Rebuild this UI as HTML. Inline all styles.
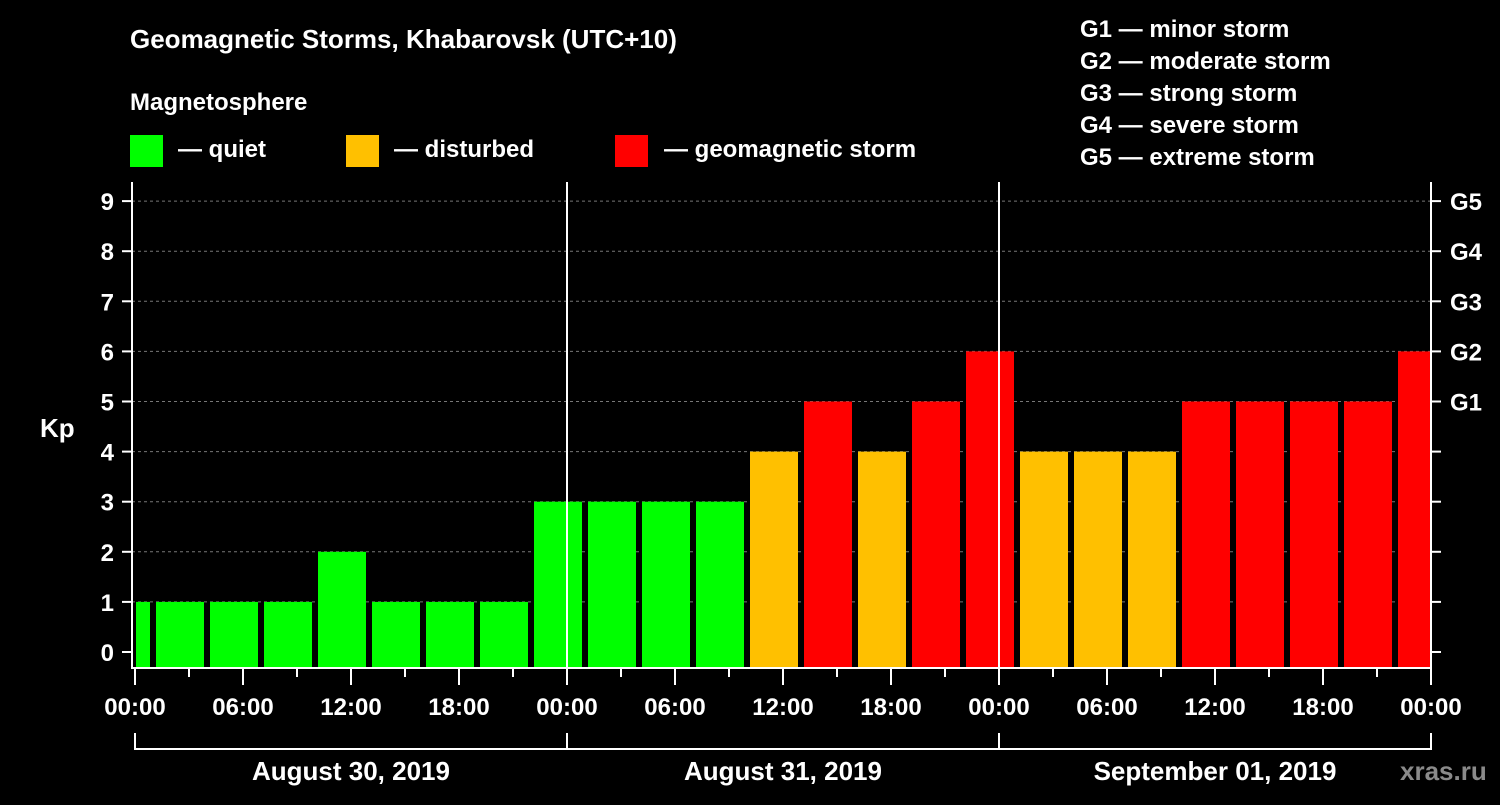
<!DOCTYPE html>
<html><head><meta charset="utf-8"><style>
body{margin:0;background:#000;width:1500px;height:800px;overflow:hidden}
svg text{font-family:"Liberation Sans",sans-serif;font-weight:bold;fill:#fff}
</style></head><body>
<svg id="c" width="1500" height="800">
<text x="130" y="48" font-size="26">Geomagnetic Storms, Khabarovsk (UTC+10)</text>
<text x="130" y="110" font-size="24">Magnetosphere</text>
<g><rect x="130" y="135" width="33" height="32" fill="#00ff00"/><text x="178" y="157" font-size="24">— quiet</text></g>
<g><rect x="346" y="135" width="33" height="32" fill="#ffc000"/><text x="394" y="157" font-size="24">— disturbed</text></g>
<g><rect x="615" y="135" width="33" height="32" fill="#ff0000"/><text x="664" y="157" font-size="24">— geomagnetic storm</text></g>
<g font-size="24">
<text x="1080" y="37">G1 — minor storm</text><text x="1080" y="69">G2 — moderate storm</text><text x="1080" y="101">G3 — strong storm</text><text x="1080" y="133">G4 — severe storm</text><text x="1080" y="165">G5 — extreme storm</text></g>
<text x="40" y="437" font-size="26">Kp</text>
<g id="grid"></g><g id="bars"></g><g id="axes"></g>
<text x="1400" y="780" font-size="26" fill="#888" style="fill:#8a8a8a">xras.ru</text>
</svg>
<script>
const kpValues=[1,1,1,1,2,1,1,1,3,3,3,3,4,5,4,5,6,4,4,4,5,5,5,5,6];
const barStartHours=[-2,1,4,7,10,13,16,19,22,25,28,31,34,37,40,43,46,49,52,55,58,61,64,67,70];
const yTicks=[0,1,2,3,4,5,6,7,8,9];
const gLabels={5:"G1",6:"G2",7:"G3",8:"G4",9:"G5"};
const xTickLabels=["00:00","06:00","12:00","18:00","00:00","06:00","12:00","18:00","00:00","06:00","12:00","18:00","00:00"];
const dateLabels=["August 30, 2019","August 31, 2019","September 01, 2019"];
const NS="http://www.w3.org/2000/svg";
const X0=135,PX_H=18,HMAX=72,Y0=652,PX_K=50.1,TOP=182,BOT=668,LEFT=132,RIGHT=1431;
const x=h=>X0+h*PX_H, y=k=>Y0-k*PX_K;
function mk(tag,attrs,parent){const e=document.createElementNS(NS,tag);for(const k in attrs)e.setAttribute(k,attrs[k]);document.getElementById(parent).appendChild(e);return e;}
yTicks.forEach(k=>{if(k>0){const g=mk('line',{x1:LEFT,x2:RIGHT,y1:y(k),y2:y(k),stroke:'#777','stroke-dasharray':'3,3'},'grid');

}});
kpValues.forEach((v,i)=>{const h=barStartHours[i];let x1=Math.max(x(h)+3,LEFT+4),x2=Math.min(x(h+3)-3,RIGHT-1);
const col=v>=5?'#ff0000':v>=4?'#ffc000':'#00ff00';
const r=mk('rect',{x:x1,y:y(v),width:x2-x1,height:BOT-y(v),fill:col},'bars');

});
[1,2].forEach(d=>{const l=mk('line',{x1:x(24*d),x2:x(24*d),y1:TOP,y2:BOT,stroke:'#fff','stroke-width':2},'axes');

});
const fr=mk('path',{d:`M${LEFT} ${TOP}V${BOT}H${RIGHT}V${TOP}`,stroke:'#fff','stroke-width':2,fill:'none'},'axes');


yTicks.forEach(k=>{mk('line',{x1:122,x2:LEFT,y1:y(k),y2:y(k),stroke:'#fff','stroke-width':2},'axes');
mk('line',{x1:RIGHT,x2:1441,y1:y(k),y2:y(k),stroke:'#fff','stroke-width':2},'axes');
const t=mk('text',{x:114,y:y(k)+9,'font-size':24,'text-anchor':'end'},'axes');t.textContent=k;


if(gLabels[k]){const g=mk('text',{x:1450,y:y(k)+9,'font-size':24},'axes');g.textContent=gLabels[k];

}});
for(let h=0;h<=HMAX;h+=3){mk('line',{x1:x(h),x2:x(h),y1:BOT,y2:h%6==0?685:677,stroke:'#fff','stroke-width':2},'axes');}
xTickLabels.forEach((s,i)=>{const t=mk('text',{x:x(i*6),y:715,'font-size':24,'text-anchor':'middle'},'axes');t.textContent=s;

});
mk('path',{d:`M${x(0)} 733V749H${x(72)}V733M${x(24)} 733V749M${x(48)} 733V749`,stroke:'#fff','stroke-width':2,fill:'none'},'axes');
dateLabels.forEach((s,i)=>{const t=mk('text',{x:x(24*i+12),y:780,'font-size':26,'text-anchor':'middle'},'axes');t.textContent=s;

});
</script>
</body></html>
